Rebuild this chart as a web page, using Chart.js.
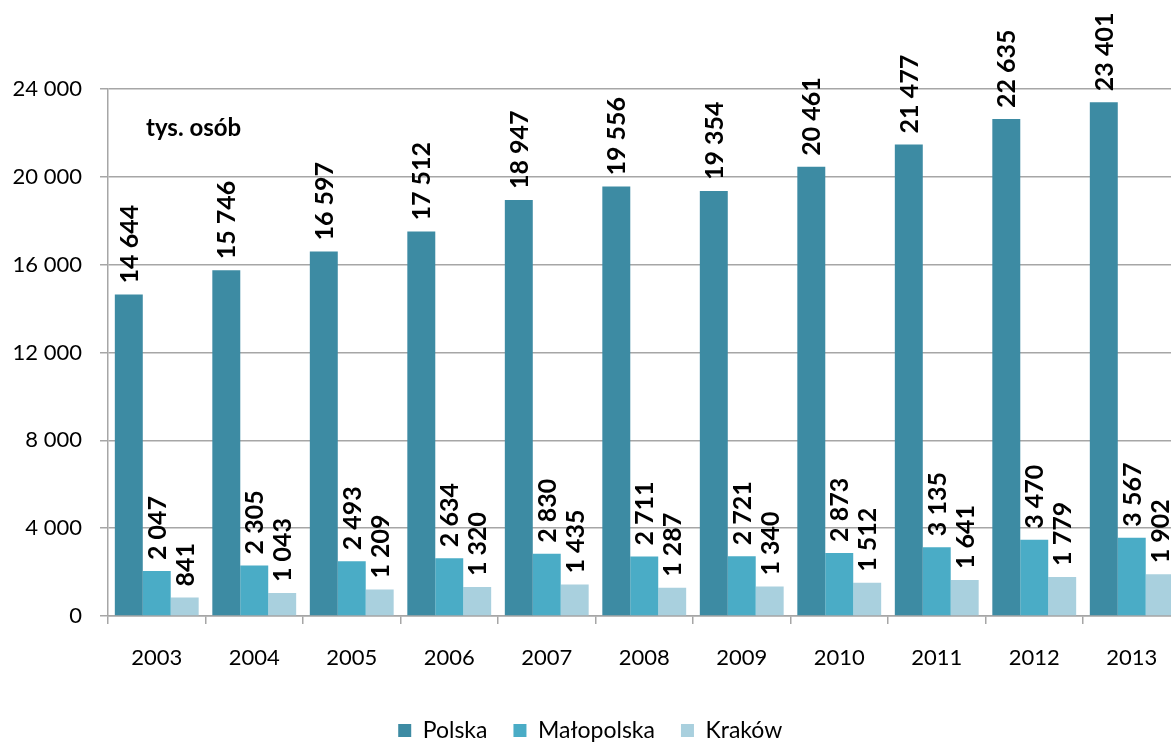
<!DOCTYPE html>
<html>
<head>
<meta charset="utf-8">
<script src="https://cdn.jsdelivr.net/npm/chart.js@4.4.1/dist/chart.umd.min.js"></script>
<style>
  html, body { margin: 0; padding: 0; overflow: hidden; background: #fff; }
  #wrap { width: 1200px; height: 752px; }
</style>
</head>
<body>
<div id="wrap"><canvas id="chart"></canvas></div>
<script>
const years = ["2003", "2004", "2005", "2006", "2007", "2008", "2009", "2010", "2011", "2012", "2013"];
const polska = [14644, 15746, 16597, 17512, 18947, 19556, 19354, 20461, 21477, 22635, 23401];
const malopolska = [2047, 2305, 2493, 2634, 2830, 2711, 2721, 2873, 3135, 3470, 3567];
const krakow = [841, 1043, 1209, 1320, 1435, 1287, 1340, 1512, 1641, 1779, 1902];
const yTicks = [0, 4000, 8000, 12000, 16000, 20000, 24000];
const unitLabel = "tys. osób";

const FONT = "Lato, 'Open Sans', sans-serif";
const GRID = "#a6a6a6";

// liczby ze spacją jako separatorem tysięcy
const fmt = v => String(v).replace(/\B(?=(\d{3})+(?!\d))/g, " ");

const valueLabels = {
    id: "valueLabels",
    afterDatasetsDraw(chart) {
        const ctx = chart.ctx;
        ctx.save();
        ctx.font = "bold 25px " + FONT;
        ctx.fillStyle = "#000";
        ctx.textAlign = "left";
        ctx.textBaseline = "middle";
        chart.data.datasets.forEach((ds, i) => {
            chart.getDatasetMeta(i).data.forEach((bar, j) => {
                ctx.save();
                ctx.translate(bar.x + 1, bar.y - 11);
                ctx.rotate(-Math.PI / 2);
                ctx.fillText(fmt(ds.data[j]), 0, 0);
                ctx.restore();
            });
        });
        // jednostka w lewym górnym rogu
        ctx.font = "bold 24px " + FONT;
        ctx.textBaseline = "alphabetic";
        ctx.fillText(unitLabel, 146, 136);
        ctx.restore();
    },
};

const ctx = document.getElementById("chart").getContext("2d");

new Chart(ctx, {
    type: "bar",
    data: {
        labels: years,
        datasets: [
            { label: "Polska", data: polska, backgroundColor: "#3d8ba3" },
            { label: "Małopolska", data: malopolska, backgroundColor: "#4aacc6" },
            { label: "Kraków", data: krakow, backgroundColor: "#a9d0de" },
        ],
    },
    plugins: [valueLabels],
    options: {
        responsive: true,
        maintainAspectRatio: false,
        animation: false,
        categoryPercentage: 0.86,
        barPercentage: 1,
        layout: {
            padding: { top: 89, right: 19.5, left: 0, bottom: 0 },
        },
        plugins: {
            tooltip: { enabled: false },
            legend: {
                position: "bottom",
                labels: {
                    boxWidth: 13,
                    boxHeight: 13,
                    padding: 26,
                    color: "#000",
                    font: { family: FONT, size: 23 },
                },
            },
        },
        scales: {
            x: {
                afterFit: s => { s.height = 77; },
                grid: {
                    offset: true,
                    drawOnChartArea: false,
                    drawTicks: true,
                    tickLength: 8,
                    color: GRID,
                    lineWidth: 1.5,
                },
                border: { color: GRID, width: 1.5 },
                ticks: {
                    color: "#000",
                    padding: 21,
                    font: { family: FONT, size: 22 },
                },
            },
            y: {
                min: 0,
                max: 24000,
                afterFit: s => { s.width = 108; },
                afterBuildTicks: s => { s.ticks = yTicks.map(v => ({ value: v })); },
                grid: {
                    color: GRID,
                    lineWidth: 1.5,
                    tickLength: 8,
                },
                border: { color: GRID, width: 1.5 },
                ticks: {
                    color: "#000",
                    padding: 18,
                    font: { family: FONT, size: 22 },
                    callback: v => fmt(v),
                },
            },
        },
    },
});
</script>
</body>
</html>
